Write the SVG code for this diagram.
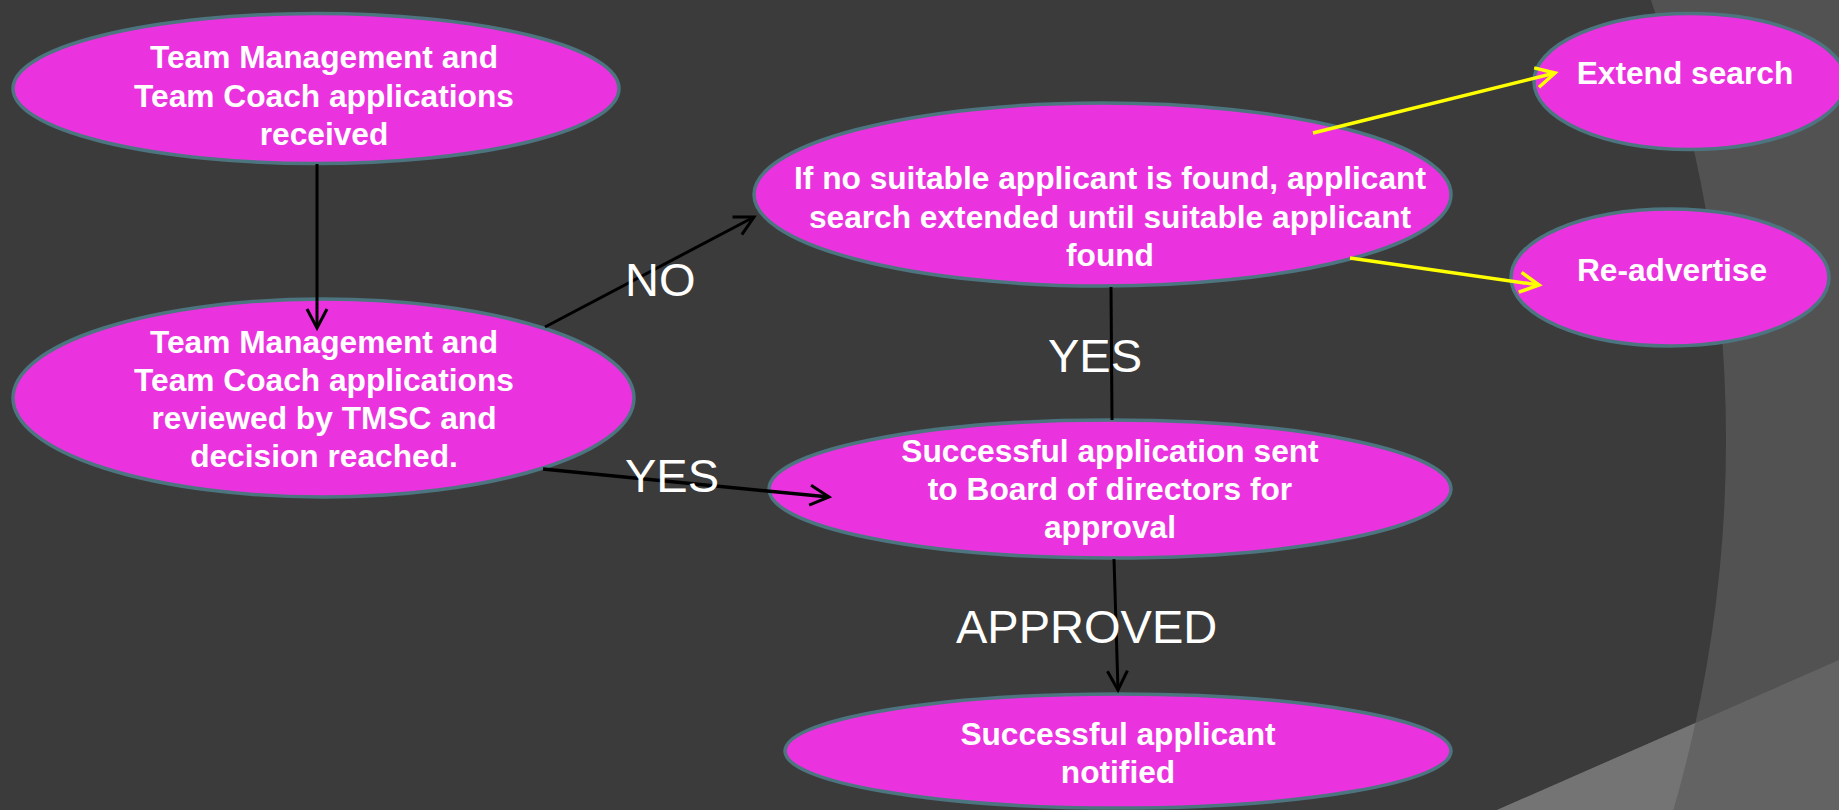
<svg xmlns="http://www.w3.org/2000/svg" width="1839" height="810" viewBox="0 0 1839 810">
<defs>
<style>
.node ellipse{fill:#ea33de;stroke:#4c7580;stroke-width:3.5}
.nt{font-family:"Liberation Sans",Arial,sans-serif;font-weight:bold;font-size:31.7px;fill:#ffffff;text-anchor:middle}
.lbl{font-family:"Liberation Sans",Arial,sans-serif;font-size:47px;fill:#ffffff}
.blk{stroke:#000000;stroke-width:3;fill:none}
.yel{stroke:#ffff00;stroke-width:3.5;fill:none}
</style>
<marker id="ab" markerUnits="userSpaceOnUse" markerWidth="30" markerHeight="30" viewBox="-25 -15 30 30" refX="0" refY="0" orient="auto">
<path d="M -19 -10 L 0 0 L -19 10" fill="none" stroke="#000000" stroke-width="3"/>
</marker>
<marker id="ay" markerUnits="userSpaceOnUse" markerWidth="30" markerHeight="30" viewBox="-25 -15 30 30" refX="0" refY="0" orient="auto">
<path d="M -19 -10 L 0 0 L -19 10" fill="none" stroke="#ffff00" stroke-width="3.5"/>
</marker>
<clipPath id="circ"><circle cx="400" cy="440" r="1326"/></clipPath>
</defs>
<g id="background">
<rect x="0" y="0" width="1839" height="810" fill="#525252"/>
<circle cx="400" cy="440" r="1326" fill="#3b3b3b"/>
<polygon points="1497,810 1839,660 1839,810" fill="#636363"/>
<polygon points="1497,810 1839,660 1839,810" fill="#747474" clip-path="url(#circ)"/>
</g>
<g id="node-received" class="node">
<ellipse cx="316" cy="88.5" rx="303" ry="75"/>
<text class="nt" x="324" y="68">Team Management and</text>
<text class="nt" x="324" y="106.5">Team Coach applications</text>
<text class="nt" x="324" y="145">received</text>
</g>
<g id="node-reviewed" class="node">
<ellipse cx="323.5" cy="398" rx="310.5" ry="99"/>
<text class="nt" x="324" y="353">Team Management and</text>
<text class="nt" x="324" y="391">Team Coach applications</text>
<text class="nt" x="324" y="429">reviewed by TMSC and</text>
<text class="nt" x="324" y="467">decision reached.</text>
</g>
<g id="node-extended" class="node">
<ellipse cx="1102.5" cy="194.5" rx="348.5" ry="91.5"/>
<text class="nt" x="1110" y="189">If no suitable applicant is found, applicant</text>
<text class="nt" x="1110" y="228">search extended until suitable applicant</text>
<text class="nt" x="1110" y="266">found</text>
</g>
<g id="node-extend-search" class="node">
<ellipse cx="1690" cy="81.5" rx="156" ry="68"/>
<text class="nt" x="1685" y="84">Extend search</text>
</g>
<g id="node-readvertise" class="node">
<ellipse cx="1670" cy="277.5" rx="159" ry="68.5"/>
<text class="nt" x="1672" y="281">Re-advertise</text>
</g>
<g id="node-board" class="node">
<ellipse cx="1110" cy="489" rx="341" ry="69"/>
<text class="nt" x="1110" y="462">Successful application sent</text>
<text class="nt" x="1110" y="500">to Board of directors for</text>
<text class="nt" x="1110" y="538">approval</text>
</g>
<g id="node-notified" class="node">
<ellipse cx="1118" cy="751" rx="333" ry="57"/>
<text class="nt" x="1118" y="745">Successful applicant</text>
<text class="nt" x="1118" y="783">notified</text>
</g>
<g id="connectors">
<line class="blk" x1="317" y1="164" x2="317" y2="328" marker-end="url(#ab)"/>
<line class="blk" x1="545" y1="327" x2="754" y2="217" marker-end="url(#ab)"/>
<line class="blk" x1="543" y1="469" x2="829" y2="497" marker-end="url(#ab)" style="stroke-width:3.5"/>
<line class="blk" x1="1111" y1="287" x2="1112" y2="420"/>
<line class="blk" x1="1114" y1="559" x2="1118" y2="690" marker-end="url(#ab)"/>
<line class="yel" x1="1313" y1="133" x2="1555" y2="73" marker-end="url(#ay)"/>
<line class="yel" x1="1350" y1="258" x2="1539" y2="285" marker-end="url(#ay)"/>
<text class="lbl" x="625" y="296">NO</text>
<text class="lbl" x="1048" y="372">YES</text>
<text class="lbl" x="625" y="492">YES</text>
<text class="lbl" x="956" y="643">APPROVED</text>
</g>
</svg>
